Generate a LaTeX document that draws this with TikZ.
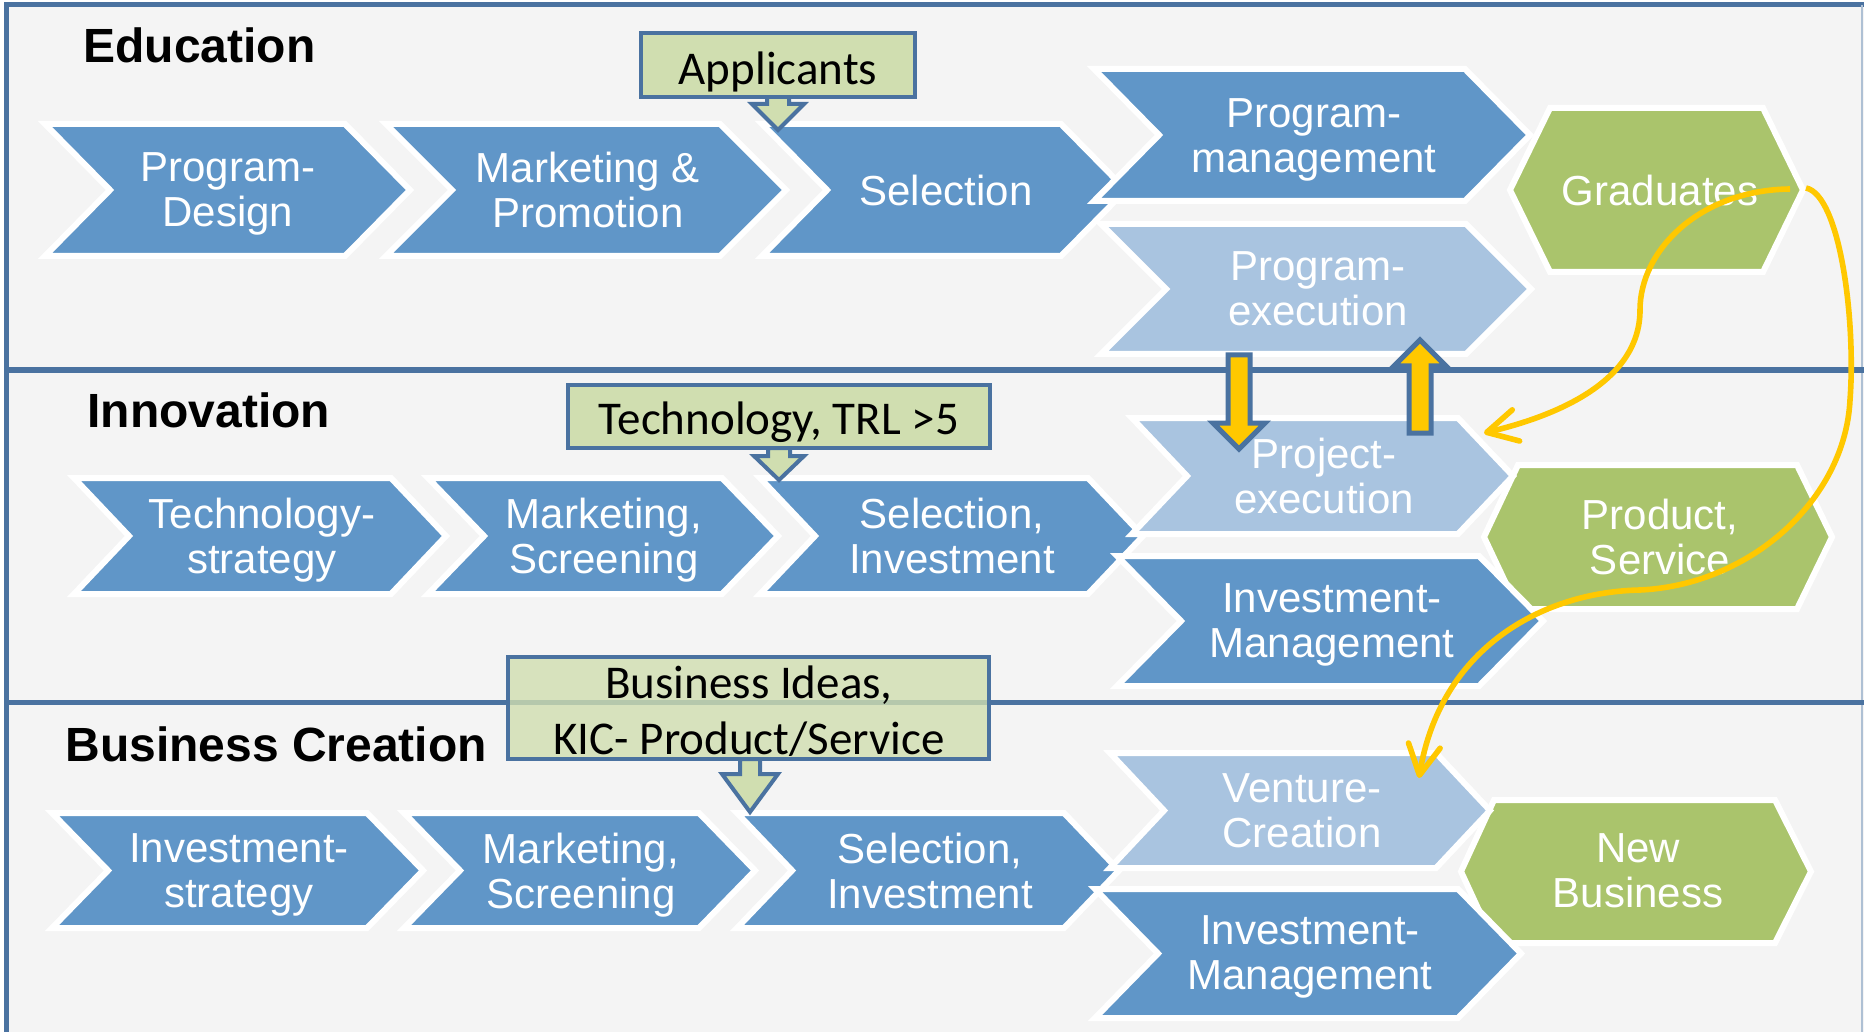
\documentclass[tikz,border=0pt]{standalone}
\usepackage{fontspec}
\setmainfont{Liberation Sans}
\newfontfamily\calib{Carlito}
\usetikzlibrary{arrows.meta}
\definecolor{bgc}{HTML}{F4F4F4}
\definecolor{cframe}{HTML}{4A72A0}
\definecolor{cdark}{HTML}{6096C8}
\definecolor{clight}{HTML}{A9C4E0}
\definecolor{cgreen}{HTML}{AAC46C}
\definecolor{cbox}{HTML}{D0DEB0}
\definecolor{cgold}{HTML}{FFC800}
\newcommand\mychev[6]{% style, x1, x2, y1, y2, depth
  \pgfmathsetmacro\ymid{(#4+#5)/2}
  \path[#1] (#2,#4) -- (#3,#4) -- ({#3+#6},\ymid) -- (#3,#5) -- (#2,#5) -- ({#2+#6},\ymid) -- cycle;}
\newcommand\myhex[7]{% style, xl, xa, xb, xr, y1, y2
  \pgfmathsetmacro\ymid{(#6+#7)/2}
  \path[#1] (#2,\ymid) -- (#3,#6) -- (#4,#6) -- (#5,\ymid) -- (#4,#7) -- (#3,#7) -- cycle;}
\newcommand\blkarrow[7]{% style, xc, shaft half, head half, ytop, yhead, ytip
  \path[#1] ({#2-#3},#5) -- ({#2-#3},#6) -- ({#2-#4},#6) -- (#2,#7) -- ({#2+#4},#6) -- ({#2+#3},#6) -- ({#2+#3},#5) -- cycle;}
\tikzset{
  chevd/.style={fill=cdark, draw=white, line width=3pt},
  chevl/.style={fill=clight, draw=white, line width=3pt},
  hexg/.style={fill=cgreen, draw=white, line width=3pt},
  lbl/.style={text=white, font=\fontsize{21}{22.5}\selectfont, align=center, inner sep=0pt, yshift=-2pt, execute at end node={\vphantom{g}}},
  lblone/.style={text=white, font=\fontsize{21}{22.5}\selectfont, align=center, inner sep=0pt},
  ttl/.style={font=\fontsize{24}{26}\selectfont\bfseries, anchor=base west, inner sep=0pt},
  inbox/.style={fill=cbox, draw=cframe, line width=2pt},
  boxtxt/.style={font=\calib\fontsize{23.5}{28}\selectfont, inner sep=0pt, align=center},
  barrow/.style={fill=cbox, draw=cframe, line width=2pt, line join=miter},
  garrow/.style={fill=cgold, draw=cframe, line width=2.5pt, line join=miter},
  curvecon/.style={draw=cgold, line width=2.8pt, -{Straight Barb[length=15pt,width=16pt,round]}},
  sepline/.style={draw=cframe, line width=2.5pt}
}
\begin{document}
\begin{tikzpicture}[x=0.5pt, y=-0.5pt]
\useasboundingbox (0,0) rectangle (1864,1032);
\fill[white] (0,0) rectangle (1864,1032);
\fill[bgc] (6,5) rectangle (1864,1032);
% frame and lane separators
\draw[sepline] (6,1032) -- (6,5) -- (1864,5);
\draw[cframe!45, line width=0.6pt] (1862,5) -- (1862,1032);
\draw[sepline] (6,370) -- (1864,370);
\draw[sepline] (6,702) -- (1864,702);

% titles
\node[ttl] (tEdu) at (83,63) {Education};
\node[ttl] (tInn) at (87,427) {Innovation};
\node[ttl] (tBus) at (65,761) {Business Creation};

% ---------- Education row ----------
\mychev{chevd}{45}{345}{124}{256}{65}
\node[lbl] (e1) at (228,190) {Program-\\Design};
\mychev{chevd}{386}{720}{124}{256}{66}
\node[lbl] (e2) at (588,190) {Marketing \&\\Promotion};
\mychev{chevd}{762}{1061}{124}{256}{65}
\node[lblone] (e3) at (946,190) {Selection};
\mychev{chevd}{1094}{1465}{69}{201}{65}
\node[lbl] (e4) at (1314,136) {Program-\\management};
\mychev{chevl}{1101}{1466}{224}{354}{65}
\node[lbl] (e5) at (1318,289) {Program-\\execution};
\myhex{hexg}{1510}{1550}{1763}{1803}{108}{272}
\node[lblone] (e6) at (1660,190) {Graduates};

% ---------- Innovation row ----------
\mychev{chevd}{74}{391}{478}{594}{55}
\node[lbl] (i1) at (262,536) {Technology-\\strategy};
\mychev{chevd}{428}{722}{478}{594}{56}
\node[lbl] (i2) at (604,536) {Marketing,\\Screening};
\mychev{chevd}{760}{1088}{478}{594}{55}
\node[lbl] (i3) at (952,536) {Selection,\\Investment};
\myhex{hexg}{1484}{1518}{1797}{1832}{465}{609}
\node[lbl] (i6) at (1660,537) {Product,\\Service};
\mychev{chevl}{1132}{1458}{418}{534}{55}
\node[lbl] (i4) at (1324,476) {Project-\\execution};
\mychev{chevd}{1117}{1479}{556}{686}{64}
\node[lbl] (i5) at (1332,621) {Investment-\\Management};

% ---------- Business Creation row ----------
\mychev{chevd}{52}{367}{813}{928}{56}
\node[lbl] (b1) at (239,871) {Investment-\\strategy};
\mychev{chevd}{404}{699}{813}{928}{56}
\node[lbl] (b2) at (581,871) {Marketing,\\Screening};
\mychev{chevd}{737}{1064}{813}{928}{55}
\node[lbl] (b3) at (930,871) {Selection,\\Investment};
\myhex{hexg}{1461}{1494}{1775}{1811}{800}{943}
\node[lbl] (b6) at (1638,871) {New\\Business};
\mychev{chevl}{1110}{1436}{753}{868}{54}
\node[lbl] (b4) at (1302,811) {Venture-\\Creation};
\mychev{chevd}{1095}{1458}{889}{1018}{63}
\node[lbl] (b5) at (1310,953) {Investment-\\Management};

% ---------- input boxes with block arrows ----------
\blkarrow{barrow}{778}{11}{26}{97}{104}{130}
\draw[inbox] (641,33) rectangle (915,97);
\node[boxtxt] (app) at (778,72) {Applicants};

\blkarrow{barrow}{779}{11}{25}{448}{456}{480}
\draw[inbox] (568,385) rectangle (990,448);
\node[boxtxt] (tech) at (779,422) {Technology, TRL >5};

\blkarrow{barrow}{750}{10}{28}{759}{774}{812}
\draw[draw=cframe, line width=2pt, fill=cbox, fill opacity=0.8] (508,657) rectangle (989,759);
\node[boxtxt] (bus) at (749,711) {Business Ideas,\\KIC- Product/Service};

% ---------- gold block arrows between lanes ----------
\blkarrow{garrow}{1239}{11}{26}{355}{423}{449}
\blkarrow{garrow}{1420}{11}{26}{433}{366}{340}

% ---------- yellow curved connectors ----------
\coordinate (gradA) at (1790,189);
\coordinate (projA) at (1484,433);
\coordinate (gradB) at (1806,188);
\coordinate (ventB) at (1419,778);
\draw[curvecon] (gradA) .. controls (1700,190) and (1640,250) .. (1640,310)
  .. controls (1640,380) and (1560,415) .. (projA);
\draw[curvecon] (gradB) .. controls (1840,195) and (1856,320) .. (1850,400)
  .. controls (1845,500) and (1750,585) .. (1640,590)
  .. controls (1540,592) and (1440,650) .. (ventB);
\end{tikzpicture}
\end{document}
